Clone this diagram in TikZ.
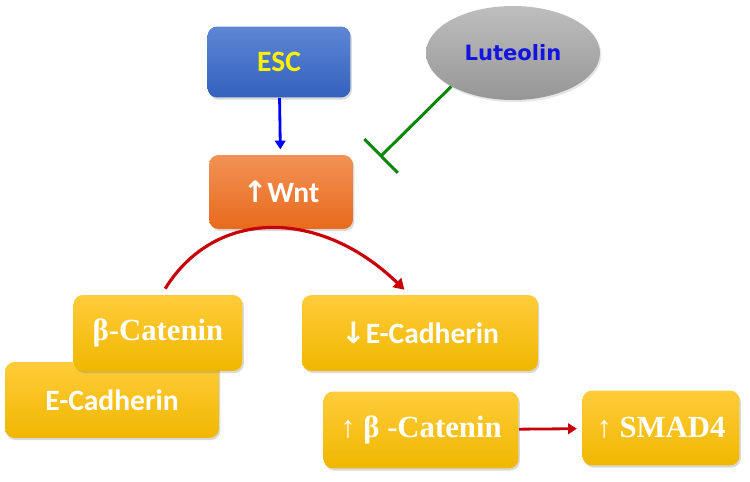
\documentclass[tikz,border=0pt]{standalone}
\usepackage{fontspec}
\setmainfont{Liberation Serif}
\newfontfamily\calfont{Carlito}
\newfontfamily\lutfont{DejaVu Sans}
\usetikzlibrary{arrows.meta,shapes.geometric,shadows}
\definecolor{escblue}{RGB}{52,97,190}
\definecolor{esclight}{RGB}{93,134,212}
\definecolor{wntorange}{RGB}{232,106,28}
\definecolor{wntlight}{RGB}{242,146,86}
\definecolor{boxgold}{RGB}{240,183,0}
\definecolor{goldlight}{RGB}{255,204,58}
\definecolor{lutgray}{RGB}{150,150,150}
\definecolor{lutlight}{RGB}{190,190,190}
\definecolor{arrred}{RGB}{200,0,10}
\definecolor{inhgreen}{RGB}{10,135,10}
\definecolor{lutblue}{RGB}{20,20,225}

\tikzset{
  pbox/.style={rounded corners=5.5pt,text=white,
    drop shadow={opacity=.3,shadow xshift=.8pt,shadow yshift=-1.2pt}},
  goldbox/.style={pbox,top color=goldlight,bottom color=boxgold,minimum height=2.15cm},
  sanslab/.style={font=\calfont\bfseries\fontsize{16.8}{19}\selectfont},
  seriflab/.style={font=\bfseries\fontsize{17.5}{20}\selectfont},
}

\begin{document}
\begin{tikzpicture}[x=.02cm,y=-.02cm]
  \useasboundingbox (0,0) rectangle (750,482);
  % top part
  \node[pbox,top color=esclight,bottom color=escblue,minimum width=2.86cm,minimum height=1.42cm,
        sanslab,text=yellow] (esc) at (279,62) {ESC};
  \node[pbox,top color=wntlight,bottom color=wntorange,minimum width=2.88cm,minimum height=1.48cm,
        sanslab] (wnt) at (281,192) {\lutfont↑\calfont Wnt};
  \node[ellipse,top color=lutlight,bottom color=lutgray,minimum width=3.48cm,minimum height=1.88cm,
        drop shadow={opacity=.2,shadow xshift=.8pt,shadow yshift=-1.2pt},
        font=\lutfont\bfseries\fontsize{12}{14}\selectfont,text=lutblue] (lut) at (513,53) {Luteolin};
  \coordinate (inh) at (380,157);
  \draw[blue,line width=1.6pt,-{Triangle[length=5pt,width=6pt]},shorten >=3pt] (esc) -- (wnt);
  \draw[inhgreen,line width=1.7pt,-{Bar[width=27pt,line width=1.7pt]}] (lut.south west) -- (inh);
  % left stack
  \node[goldbox,minimum width=4.28cm,minimum height=1.52cm,sanslab] (ecadl) at (112,400) {E-Cadherin};
  \node[goldbox,minimum width=3.38cm,minimum height=1.52cm,seriflab] (bcat) at (158,333) {β-Catenin};
  % right part
  \node[goldbox,minimum width=4.72cm,minimum height=1.52cm,sanslab] (ecadr) at (420,333) {\lutfont↓\calfont E-Cadherin};
  \node[goldbox,minimum width=3.9cm,minimum height=1.54cm,seriflab] (bcatr) at (421,430) {↑ β -Catenin};
  \node[goldbox,minimum width=3.14cm,minimum height=1.5cm,seriflab] (smad) at (661,428) {↑ SMAD4};
  \draw[arrred,line width=1.8pt,-{Triangle[length=6pt,width=7pt]},shorten <=4pt,shorten >=4pt]
    ([xshift=2pt]bcat.north) .. controls (215,208) and (320,208) .. ([xshift=-6pt]ecadr.north);
  \draw[arrred,line width=1.6pt,-{Triangle[length=5pt,width=6pt]},shorten >=3pt] (bcatr) -- (smad);
\end{tikzpicture}
\end{document}
